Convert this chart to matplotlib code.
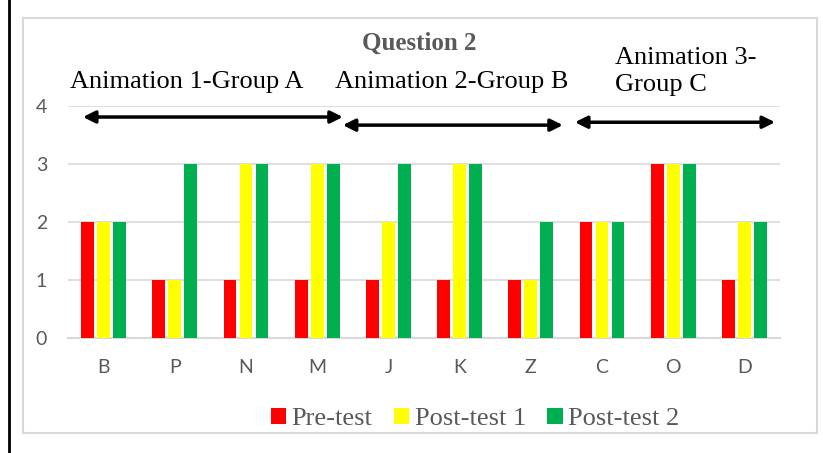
import matplotlib
matplotlib.use("Agg")
from matplotlib import pyplot as plt
from matplotlib.patches import Rectangle
import numpy as np

categories = ["B", "P", "N", "M", "J", "K", "Z", "C", "O", "D"]
pre_test = [2, 1, 1, 1, 1, 1, 1, 2, 3, 1]
post_test1 = [2, 1, 3, 3, 2, 3, 1, 2, 3, 2]
post_test2 = [2, 3, 3, 3, 3, 3, 2, 2, 3, 2]
series_names = ["Pre-test", "Post-test 1", "Post-test 2"]
colors = ["#FF0000", "#FFFF00", "#00B050"]

W, H = 823, 453
fig = plt.figure(figsize=(W / 100, H / 100), dpi=100)

# chart box and left black rule
fig.patches.append(Rectangle((23 / W, 1 - 433 / H), (817 - 23) / W, (433 - 18) / H,
                             transform=fig.transFigure, fill=False,
                             edgecolor="#D9D9D9", lw=1.5))
fig.add_artist(plt.Line2D([9 / W, 9 / W], [0, 1], transform=fig.transFigure,
                          color="black", lw=2))

ax = fig.add_axes([68 / W, 1 - 338 / H, (780 - 68) / W, (338 - 106) / H])

x = np.arange(len(categories))
bw = 0.18
step = 0.225
for k, (vals, name, c) in enumerate(zip([pre_test, post_test1, post_test2], series_names, colors)):
    ax.bar(x + (k - 1) * step, vals, width=bw, color=c, label=name, zorder=3)

ax.set_xlim(-0.5, len(categories) - 0.5)
ax.set_ylim(0, 4)
ax.set_yticks([0, 1, 2, 3, 4])
ax.set_xticks(x)
ax.set_xticklabels(categories)
ax.grid(axis="y", color="#D9D9D9", lw=1.2, zorder=0)
for s in ["top", "right", "left"]:
    ax.spines[s].set_visible(False)
ax.spines["bottom"].set_color("#D9D9D9")
ax.spines["bottom"].set_linewidth(1.5)
ax.tick_params(axis="both", length=0, labelsize=14, colors="#595959")
for lab in ax.get_xticklabels() + ax.get_yticklabels():
    lab.set_family("Lato")
ax.tick_params(axis="x", pad=15)
ax.tick_params(axis="y", pad=15)

serif = "Liberation Serif"

# group arrows
arrow_spans = [(-0.29, 3.36, 3.81), (3.36, 6.45, 3.67), (6.62, 9.43, 3.72)]
for x0, x1, yy in arrow_spans:
    ax.annotate("", xy=(x1, yy), xytext=(x0, yy),
                arrowprops=dict(arrowstyle="<|-|>", color="black", lw=2.5,
                                mutation_scale=18, shrinkA=0, shrinkB=0),
                zorder=4)

ax.text(-0.47, 4.41, "Animation 1-Group A", family=serif, fontsize=19,
        ha="left", va="center", clip_on=False)
ax.text(3.25, 4.41, "Animation 2-Group B", family=serif, fontsize=19,
        ha="left", va="center", clip_on=False)
ax.text(7.18, 4.6, "Animation 3-\nGroup C", family=serif, fontsize=19,
        ha="left", va="center", linespacing=1.3, clip_on=False)
fig.text(419 / W, 1 - 43 / H, "Question 2", family=serif, fontsize=18,
         fontweight="bold", color="#595959", ha="center", va="center")

leg = fig.legend(loc="center", bbox_to_anchor=(475 / W, 1 - 419 / H), ncol=3,
                 frameon=False, prop={"family": serif, "size": 19},
                 handlelength=0.6, handleheight=0.6, handletextpad=0.2,
                 columnspacing=0.8)
for t in leg.get_texts():
    t.set_color("#595959")

fig.savefig("out.png", dpi=100)
